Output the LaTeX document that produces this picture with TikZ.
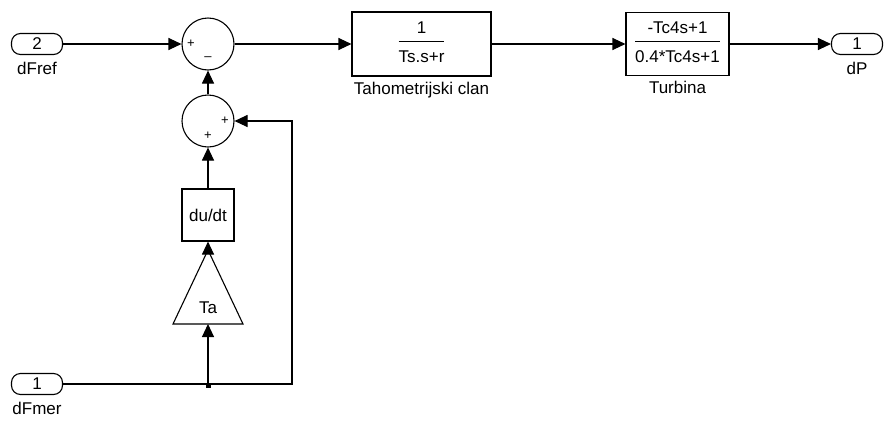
\documentclass[tikz,border=0pt]{standalone}
\usepackage{fontspec}
\setmainfont{Liberation Sans}
\usetikzlibrary{arrows.meta, positioning}

\newcommand{\blockfrac}[2]{\begin{tabular}{@{}c@{}}#1\\[2pt]\hline\rule{0pt}{21pt}#2\end{tabular}}

\begin{document}
\begin{tikzpicture}[x = 1pt, y = -1pt, > = {Triangle[length = 13pt, width = 12pt]}, line width = 1.1pt, font = \fontsize{17}{19}\selectfont]

	% Styles
	
	\tikzset{
		port/.style = {draw, rounded corners = 9pt, minimum width = 51pt, minimum height = 21pt, inner sep = 0pt},
		portlabel/.style = {inner sep = 0pt},
		sumblock/.style = {draw, circle, minimum size = 52pt, inner sep = 0pt},
		sign/.style = {inner sep = 0pt, font = \fontsize{13}{14}\selectfont},
		tfblock/.style = {draw, rectangle, inner sep = 0pt}
	}
	
	\useasboundingbox (0, 0) rectangle (886, 421);
	
	% Ports
	
	\node [port] (dFref) at (37, 44) {2};
	\node [portlabel, below = 7pt of dFref] (dFreflab) {dFref};
	\node [port] (dFmer) at (37, 384) {1};
	\node [portlabel, below = 7pt of dFmer] (dFmerlab) {dFmer};
	\node [port] (dP) at (857, 44) {1};
	\node [portlabel, below = 7pt of dP] (dPlab) {dP};
	
	% Sums
	
	\node [sumblock] (sum1) at (208, 44) {};
	\node [sign] (sum1a) at ([xshift = -17pt] sum1.center) {+};
	\node [sign] (sum1b) at ([yshift = -15pt] sum1.center) {--};
	\node [sumblock] (sum2) at (208, 121) {};
	\node [sign] (sum2a) at ([xshift = 17pt] sum2.center) {+};
	\node [sign] (sum2b) at ([yshift = -15pt] sum2.center) {+};
	
	% Blocks
	
	\node [tfblock, minimum width = 139pt, minimum height = 64pt] (tach) at (421.5, 44) {\blockfrac{1}{Ts.s+r}};
	\node [below = 5pt of tach, inner sep = 0pt] (tachlab) {Tahometrijski clan};
	\node [tfblock, minimum width = 103pt, minimum height = 63pt] (turb) at (677.5, 44) {\blockfrac{-Tc4s+1}{0.4*Tc4s+1}};
	\node [below = 5pt of turb, inner sep = 0pt] (turblab) {Turbina};
	\node [tfblock, minimum size = 52pt] (dudt) at (208, 215) {du/dt};
	
	% Gain
	
	\coordinate (Taapex) at (208, 250);
	\coordinate (Tabase) at (208, 324);
	\draw (173, 324) -- (243, 324) -- (Taapex) -- cycle;
	\node [inner sep = 0pt] (Ta) at (208, 308) {Ta};
	
	% Connectors
	
	\coordinate (split) at (208, 384);
	\coordinate (fb) at (292, 384);
	
	\draw [->] (dFref.east) -- (sum1.west);
	\draw [->] (sum1.east) -- (tach.west);
	\draw [->] (tach.east) -- (turb.west);
	\draw [->] (turb.east) -- (dP.west);
	\draw [->] (sum2.north) -- (sum1.south);
	\draw [->] (dudt.north) -- (sum2.south);
	\draw [->] (Taapex) -- (dudt.south);
	\draw [->] (split) -- (Tabase);
	\draw [->] (dFmer.east) -- (fb) |- (sum2.east);
	\fill ([shift = {(-2.5, -1)}] split) rectangle ++(5, 5);

\end{tikzpicture}
\end{document}
